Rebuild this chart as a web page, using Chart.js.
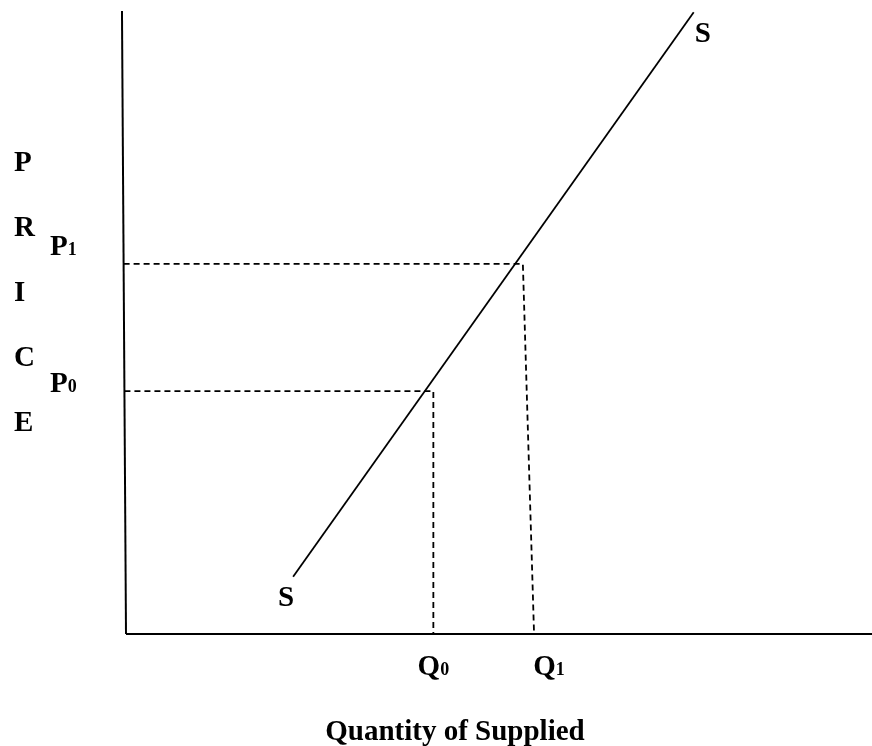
<!DOCTYPE html>
<html>
<head>
<meta charset="utf-8">
<title>Supply curve</title>
<script src="https://cdn.jsdelivr.net/npm/chart.js@4/dist/chart.umd.min.js"></script>
<style>
  body { margin: 0; background: #fff; }
  #wrap { width: 872px; height: 746px; position: relative; }
</style>
</head>
<body>
<div id="wrap"><canvas id="graficoOferta"></canvas></div>
<script>
// Supply curve S, two ends (quantity, price)
var supplyQ = [22.4, 76.1];
var supplyP = [9.2, 99.8];

// price levels P0, P1 and where the guides meet the curve / drop to the axis
var priceLevels = [39.0, 59.4];
var quantityAtCurve = [41.2, 53.2];
var quantityAtAxis = [41.2, 54.7];
var priceNames = ['P', 'P'];
var priceSubs = ['0', '1'];
var quantityNames = ['Q', 'Q'];
var quantitySubs = ['0', '1'];

// the price axis leans a little to the left at the top
var axisTopQ = -0.54;
var axisTopP = 100;
var axisEndQ = 100;

var yTitle = ['P', 'R', 'I', 'C', 'E'];
var xTitle = 'Quantity of Supplied';
var curveName = 'S';

function axisQAt(p) {
  return axisTopQ * p / axisTopP;
}

// dashed guide: from the price axis across to the curve, then down to the quantity axis
function guide(i) {
  return [
    { x: axisQAt(priceLevels[i]), y: priceLevels[i] },
    { x: quantityAtCurve[i], y: priceLevels[i] },
    { x: quantityAtAxis[i], y: 0 }
  ];
}

var FONT = 'bold 29px "Liberation Serif", "Times New Roman", serif';
var FONT_SUB = 'bold 18px "Liberation Serif", "Times New Roman", serif';

function labelWithSub(ctx, txt, sub, x, y, align) {
  ctx.font = FONT;
  var w1 = ctx.measureText(txt).width;
  ctx.font = FONT_SUB;
  var w2 = ctx.measureText(sub).width;
  var left = align === 'center' ? x - (w1 + w2) / 2 : x;
  ctx.textAlign = 'left';
  ctx.font = FONT;
  ctx.fillText(txt, left, y);
  ctx.font = FONT_SUB;
  ctx.fillText(sub, left + w1, y);
}

var textos = {
  id: 'textos',
  afterDraw: function (chart) {
    var ctx = chart.ctx;
    var xs = chart.scales.x;
    var ys = chart.scales.y;
    ctx.save();
    ctx.fillStyle = '#000';
    ctx.textBaseline = 'alphabetic';

    // vertical title letters
    ctx.font = FONT;
    ctx.textAlign = 'left';
    yTitle.forEach(function (letra, i) {
      ctx.fillText(letra, 14, 171 + i * 65);
    });

    // P0, P1 next to the axis
    var pOffsets = [1, -9];
    priceLevels.forEach(function (p, i) {
      labelWithSub(ctx, priceNames[i], priceSubs[i], 50, ys.getPixelForValue(p) + pOffsets[i], 'left');
    });

    // Q0, Q1 under the axis (Q1 sits a bit right of its guide)
    var qOffsets = [0, 15];
    quantityAtAxis.forEach(function (q, i) {
      labelWithSub(ctx, quantityNames[i], quantitySubs[i], xs.getPixelForValue(q) + qOffsets[i], 675, 'center');
    });

    // S at both ends of the curve
    ctx.font = FONT;
    ctx.textAlign = 'left';
    ctx.fillText(curveName, xs.getPixelForValue(supplyQ[0]) - 15, ys.getPixelForValue(supplyP[0]) + 29);
    ctx.fillText(curveName, xs.getPixelForValue(supplyQ[1]) + 1, ys.getPixelForValue(supplyP[1]) + 30);

    // quantity title
    ctx.textAlign = 'center';
    ctx.fillText(xTitle, 455, 740);
    ctx.restore();
  }
};

var ctx = document.getElementById('graficoOferta').getContext('2d');
var chart = new Chart(ctx, {
  type: 'scatter',
  data: {
    datasets: [
      {
        // price axis
        data: [{ x: 0, y: 0 }, { x: axisTopQ, y: axisTopP }],
        showLine: true, borderColor: '#000', borderWidth: 2, pointRadius: 0
      },
      {
        // quantity axis
        data: [{ x: 0, y: 0 }, { x: axisEndQ, y: 0 }],
        showLine: true, borderColor: '#000', borderWidth: 2, pointRadius: 0
      },
      {
        // supply curve
        data: supplyQ.map(function (q, i) { return { x: q, y: supplyP[i] }; }),
        showLine: true, borderColor: '#000', borderWidth: 1.8, pointRadius: 0
      },
      {
        data: guide(0),
        showLine: true, borderColor: '#000', borderWidth: 1.8, borderDash: [6, 4], pointRadius: 0
      },
      {
        data: guide(1),
        showLine: true, borderColor: '#000', borderWidth: 1.8, borderDash: [6, 4], pointRadius: 0
      }
    ]
  },
  options: {
    responsive: true,
    maintainAspectRatio: false,
    animation: false,
    clip: false,
    layout: { padding: { left: 126, right: 0, top: 11, bottom: 112 } },
    plugins: { legend: { display: false }, tooltip: { enabled: false } },
    scales: {
      x: { type: 'linear', min: 0, max: 100, display: false },
      y: { type: 'linear', min: 0, max: 100, display: false }
    }
  },
  plugins: [textos]
});
</script>
</body>
</html>
